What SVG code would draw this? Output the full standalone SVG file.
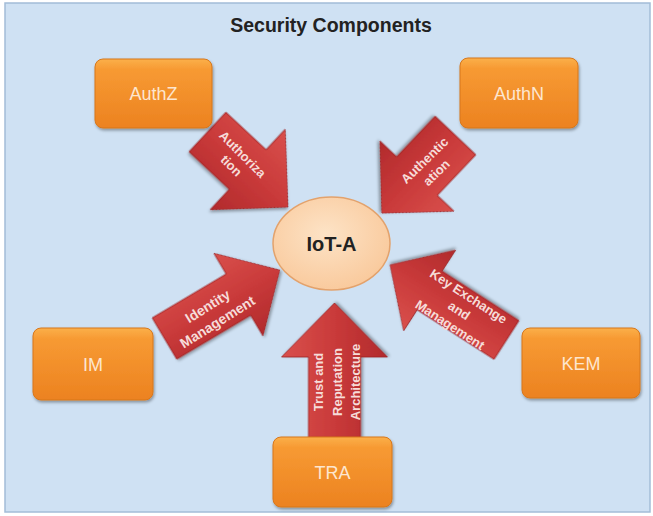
<svg xmlns="http://www.w3.org/2000/svg" width="653" height="516" viewBox="0 0 653 516">
  <defs>
    <linearGradient id="gBox" x1="0" y1="0" x2="0" y2="1">
      <stop offset="0" stop-color="#fbb04a"/>
      <stop offset="0.15" stop-color="#f79a33"/>
      <stop offset="1" stop-color="#ec8220"/>
    </linearGradient>
    <linearGradient id="gArrow" x1="0" y1="0" x2="0" y2="1">
      <stop offset="0" stop-color="#d9504c"/>
      <stop offset="0.5" stop-color="#c93a3a"/>
      <stop offset="1" stop-color="#b12a2c"/>
    </linearGradient>
    <radialGradient id="gCore" cx="0.45" cy="0.4" r="0.65">
      <stop offset="0" stop-color="#fde3c6"/>
      <stop offset="1" stop-color="#f9c89a"/>
    </radialGradient>
    <filter id="shadow" x="-20%" y="-20%" width="140%" height="150%">
      <feDropShadow dx="1" dy="2" stdDeviation="1.5" flood-color="#000" flood-opacity="0.35"/>
    </filter>
    <style>
      .panel { fill: #cfe1f3; stroke: #a3bcd7; stroke-width: 1.5; }
      .title { font-family: "Liberation Sans", Arial, sans-serif; font-weight: bold; font-size: 19.5px; fill: #222; text-anchor: middle; }
      .box { fill: url(#gBox); stroke: #d7771c; stroke-width: 1; filter: url(#shadow); }
      .boxText { font-family: "Liberation Sans", Arial, sans-serif; font-size: 18px; fill: #fde6cf; text-anchor: middle; }
      .arrow { fill: url(#gArrow); stroke: #9c2224; stroke-width: 0.8; filter: url(#shadow); }
      .arrowText { font-family: "Liberation Sans", Arial, sans-serif; font-weight: bold; font-size: 13px; fill: #f6dcd9; text-anchor: middle; }
      .core { fill: url(#gCore); stroke: #e3a26c; stroke-width: 1.5; }
      .coreText { font-family: "Liberation Sans", Arial, sans-serif; font-weight: bold; font-size: 20px; fill: #222; text-anchor: middle; }
    </style>
  </defs>

  <rect x="0" y="0" width="653" height="516" fill="#ffffff"/>
  <rect class="panel" x="5" y="3" width="645" height="509"/>
  <text class="title" x="331" y="32">Security Components</text>

  <g id="connectors">
    <g id="arrow-authz">
      <path class="arrow" transform="translate(207.5,132) rotate(43)" d="M0,-27 L55,-27 L55,-55 L110,0 L55,55 L55,27 L0,27 Z"/>
      <text class="arrowText" transform="translate(237,160) rotate(45)"><tspan x="0" y="-3.5">Authoriza</tspan><tspan x="0" y="12.5">tion</tspan></text>
    </g>
    <g id="arrow-authn">
      <path class="arrow" transform="translate(455.5,135.5) rotate(133.5)" d="M0,-28 L56,-28 L56,-51 L107,0 L56,51 L56,28 L0,28 Z"/>
      <text class="arrowText" transform="translate(430.5,166.5) rotate(-44)"><tspan x="0" y="-4">Authentic</tspan><tspan x="0" y="13">ation</tspan></text>
    </g>
    <g id="arrow-im">
      <path class="arrow" transform="translate(164.5,338.5) rotate(-30.7)" d="M0,-24 L86,-24 L86,-48 L134,0 L86,48 L86,24 L0,24 Z"/>
      <text class="arrowText" style="font-size:14px" transform="translate(212.6,314.2) rotate(-32)"><tspan x="0" y="-4.5">Identity</tspan><tspan x="0" y="14">Management</tspan></text>
    </g>
    <g id="arrow-kem">
      <path class="arrow" transform="translate(506.5,340) rotate(-147.2)" d="M0,-23 L91.5,-23 L91.5,-48 L138.5,0 L91.5,48 L91.5,23 L0,23 Z"/>
      <text class="arrowText" transform="translate(459,311) rotate(33)"><tspan x="0" y="-13">Key Exchange</tspan><tspan x="0" y="4">and</tspan><tspan x="0" y="21">Management</tspan></text>
    </g>
    <g id="arrow-tra">
      <path class="arrow" transform="translate(334.5,445) rotate(-90)" d="M0,-26 L88,-26 L88,-53 L142,0 L88,53 L88,26 L0,26 Z"/>
      <text class="arrowText" transform="translate(337,382) rotate(-90)"><tspan x="0" y="-14">Trust and</tspan><tspan x="0" y="4.5">Reputation</tspan><tspan x="0" y="23">Architecture</tspan></text>
    </g>
  </g>

  <g id="node-authz">
    <rect class="box" x="95" y="59" width="117" height="69" rx="8"/>
    <text class="boxText" x="153.5" y="100">AuthZ</text>
  </g>
  <g id="node-authn">
    <rect class="box" x="460" y="58" width="118" height="70" rx="8"/>
    <text class="boxText" x="519" y="100">AuthN</text>
  </g>
  <g id="node-im">
    <rect class="box" x="33" y="328" width="120" height="72" rx="8"/>
    <text class="boxText" x="93" y="371">IM</text>
  </g>
  <g id="node-kem">
    <rect class="box" x="522" y="328" width="118" height="70" rx="8"/>
    <text class="boxText" x="581" y="370">KEM</text>
  </g>
  <g id="node-tra">
    <rect class="box" x="273" y="437" width="119" height="70" rx="8"/>
    <text class="boxText" x="332.5" y="479">TRA</text>
  </g>
  <g id="node-iota">
    <ellipse class="core" cx="331.5" cy="243.5" rx="58.5" ry="46.5"/>
    <text class="coreText" x="331.5" y="251">IoT-A</text>
  </g>
</svg>
